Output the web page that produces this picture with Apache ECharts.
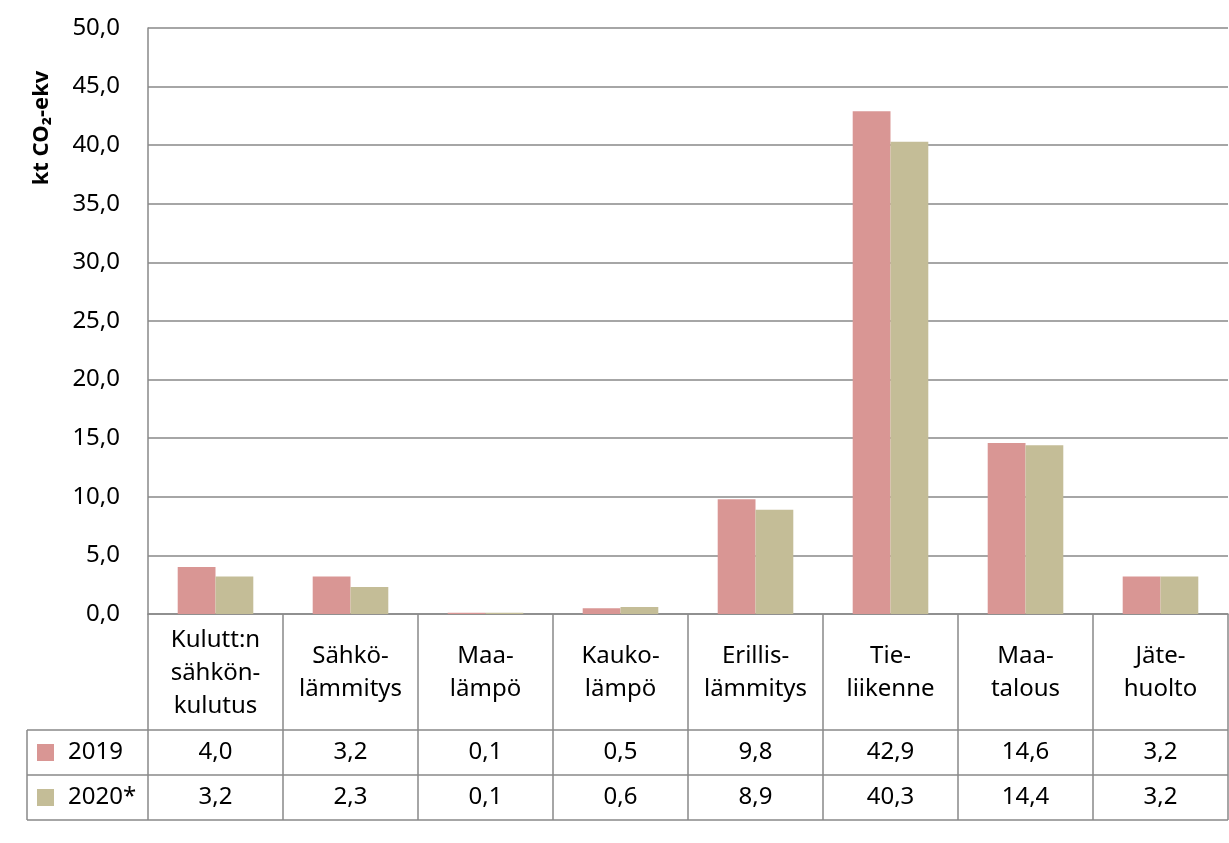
<!DOCTYPE html>
<html>
<head>
<meta charset="utf-8">
<script src="https://cdn.jsdelivr.net/npm/echarts@6/dist/echarts.min.js"></script>
<style>
html,body{margin:0;padding:0;background:#fff;}
#chart{width:1229px;height:843px;}
</style>
</head>
<body>
<div id="chart"></div>
<script>
// ---- data ----
const categories = ['Kulutt:n\nsähkön-\nkulutus', 'Sähkö-\nlämmitys', 'Maa-\nlämpö', 'Kauko-\nlämpö', 'Erillis-\nlämmitys', 'Tie-\nliikenne', 'Maa-\ntalous', 'Jäte-\nhuolto'];
const seriesNames = ['2019', '2020*'];
const values2019 = [4.0, 3.2, 0.1, 0.5, 9.8, 42.9, 14.6, 3.2];
const values2020 = [3.2, 2.3, 0.1, 0.6, 8.9, 40.3, 14.4, 3.2];
const yTicks = { min: 0, max: 50, interval: 5 };
const yTitle = 'kt CO₂-ekv';

// ---- style / layout ----
const colors = ['#D99694', '#C4BD97'];
const FONT = 'Noto Sans';
const FS = 24;
const LINE = '#898989';
const W = 1229, H = 843;
const GL = 148, GR = 1228, GT = 28, GB = 614;
const ROW_HDR = 730, ROW1 = 775, ROW2 = 820, TL = 27;

const fmt = v => v.toFixed(1).replace('.', ',');

const chart = echarts.init(document.getElementById('chart'), null, { renderer: 'canvas' });
chart.setOption({
  animation: false,
  backgroundColor: '#fff',
  textStyle: { fontFamily: FONT },
  grid: { left: GL, right: W - GR, top: GT, bottom: H - GB, containLabel: false },
  xAxis: {
    type: 'category',
    data: categories,
    axisLine: { show: true, lineStyle: { color: LINE, width: 1.5 } },
    axisTick: { show: false },
    axisLabel: { show: false },
    splitLine: { show: false }
  },
  yAxis: {
    type: 'value',
    min: yTicks.min, max: yTicks.max, interval: yTicks.interval,
    axisLine: { show: true, lineStyle: { color: LINE, width: 1.5 } },
    axisTick: { show: false },
    axisLabel: { color: '#000', fontSize: FS, fontFamily: FONT, margin: 28, formatter: v => fmt(v) },
    splitLine: { show: true, lineStyle: { color: LINE, width: 1.5 } }
  },
  series: [
    { name: seriesNames[0], type: 'bar', data: values2019, barGap: '0%', barCategoryGap: '44%',
      itemStyle: { color: colors[0] } },
    { name: seriesNames[1], type: 'bar', data: values2020, barGap: '0%', barCategoryGap: '44%',
      itemStyle: { color: colors[1] } }
  ]
});

// ---- data table & titles drawn as graphics ----
const g = [];
const ln = (x1, y1, x2, y2) => g.push({ type: 'line', silent: true,
  shape: { x1, y1, x2, y2 }, style: { stroke: LINE, lineWidth: 1.5 } });
const txt = (x, y, text, extra) => g.push(Object.assign({ type: 'text', silent: true, x, y,
  style: Object.assign({ text, fill: '#000', font: FS + 'px "' + FONT + '"', align: 'center', verticalAlign: 'middle', lineHeight: 33 }, extra || {}) }));

const step = (GR - GL) / categories.length;
// horizontal lines
ln(TL, ROW_HDR, GR, ROW_HDR);
ln(TL, ROW1, GR, ROW1);
ln(TL, ROW2, GR, ROW2);
// vertical lines
ln(GL, GB, GL, ROW2);
ln(TL, ROW_HDR, TL, ROW2);
for (let i = 1; i <= categories.length; i++) {
  const x = GL + step * i;
  ln(x, GB, x, ROW2);
}
// texts
categories.forEach((c, i) => {
  const cx = chart.convertToPixel({ xAxisIndex: 0 }, i);
  txt(cx, (GB + ROW_HDR) / 2 + 1, c);
  txt(cx, (ROW_HDR + ROW1) / 2, fmt(values2019[i]));
  txt(cx, (ROW1 + ROW2) / 2, fmt(values2020[i]));
});
// legend keys
[ROW_HDR, ROW1].forEach((top, k) => {
  g.push({ type: 'rect', silent: true, shape: { x: 37, y: top + 14, width: 17, height: 17 }, style: { fill: colors[k] } });
  txt(68, (top + (k ? ROW2 : ROW1)) / 2, seriesNames[k], { align: 'left' });
});
// y title
g.push({ type: 'text', silent: true, x: 42, y: 128, rotation: Math.PI / 2,
  style: { text: yTitle, fill: '#000', font: 'bold 22px "' + FONT + '"', align: 'center', verticalAlign: 'middle' } });

chart.setOption({ graphic: g });
</script>
</body>
</html>
